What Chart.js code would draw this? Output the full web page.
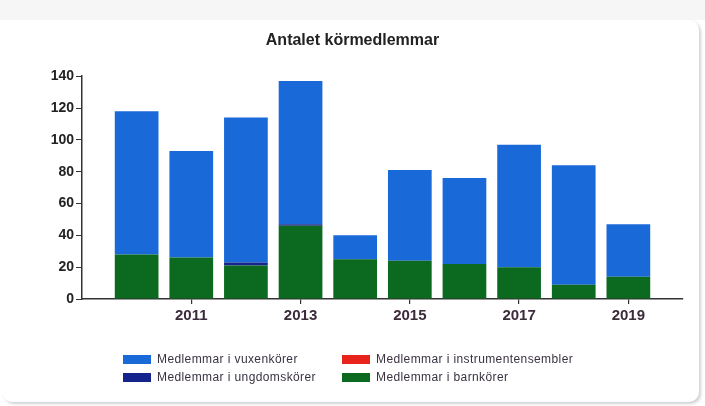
<!DOCTYPE html>
<html>
<head>
<meta charset="utf-8">
<script src="https://cdn.jsdelivr.net/npm/chart.js@4.4.1/dist/chart.umd.min.js"></script>
<style>
  html, body { margin: 0; padding: 0; background: #ffffff; }
  #wrap { position: relative; width: 705px; height: 406px; overflow: hidden; background: #fff; }
  #topband { position: absolute; left: 0; top: 0; width: 705px; height: 20px; background: #f6f6f6; }
  #card { position: absolute; left: 2px; top: 20px; width: 697px; height: 382px; border-radius: 10px;
          box-shadow: 2px 2px 3px rgba(0,0,0,0.18); background: #fff; }
  canvas { position: absolute; left: 0; top: 0; }
  .leg { position: absolute; font-family: "Liberation Sans", Arial, sans-serif; font-size: 12px;
         letter-spacing: 0.4px; color: #3a3242; white-space: nowrap; line-height: 14px; }
  .sw { position: absolute; width: 28px; height: 9px; }
</style>
</head>
<body>
<div id="wrap">
  <div id="topband"></div>
  <div id="card"></div>
  <canvas id="c" width="705" height="406"></canvas>
  <div id="legend"></div>
</div>
<script>
const years = [2010, 2011, 2012, 2013, 2014, 2015, 2016, 2017, 2018, 2019];
const tickYears = [2011, 2013, 2015, 2017, 2019];
const barnkorer = [28, 26, 21, 46, 25, 24, 22, 20, 9, 14];
const ungdomskorer = [0, 0, 2, 1, 0, 0, 0, 0, 0, 0];
const instrumentensembler = [0, 0, 0, 0, 0, 0, 0, 0, 0, 0];
const vuxenkorer = [90, 67, 91, 90, 15, 57, 54, 77, 75, 33];
const seriesNames = ['Medlemmar i vuxenkörer', 'Medlemmar i ungdomskörer', 'Medlemmar i instrumentensembler', 'Medlemmar i barnkörer'];
const colors = { vuxen: '#1a69d8', ungdom: '#14248c', instr: '#e8231c', barn: '#0c6a20' };

function pts(arr) { return years.map((y, i) => ({ x: y, y: arr[i] })); }

const ds = (label, arr, color) => ({
  label, data: pts(arr), backgroundColor: color, borderWidth: 0,
  barPercentage: 0.8, categoryPercentage: 1.0
});

new Chart(document.getElementById('c'), {
  type: 'bar',
  data: {
    datasets: [
      ds(seriesNames[3], barnkorer, colors.barn),
      ds(seriesNames[1], ungdomskorer, colors.ungdom),
      ds(seriesNames[2], instrumentensembler, colors.instr),
      ds(seriesNames[0], vuxenkorer, colors.vuxen)
    ]
  },
  options: {
    responsive: false,
    animation: false,
    layout: { padding: { left: 22, right: 22, top: 0, bottom: 0 } },
    plugins: {
      legend: { display: false },
      tooltip: { enabled: false },
      title: {
        display: true, text: 'Antalet körmedlemmar', color: '#222',
        font: { family: '"Liberation Sans Narrow", "Liberation Sans", Arial, sans-serif', size: 16, weight: 'bold' },
        padding: { top: 31, bottom: 26 }
      }
    },
    scales: {
      x: {
        type: 'linear', stacked: true, min: 2009, max: 2020, offset: false, bounds: 'ticks',
        afterBuildTicks: s => { s.ticks = tickYears.map(v => ({ value: v })); },
        afterDataLimits: s => { s.min = 2009; s.max = 2020; },
        afterFit: s => { s.height = 107; },
        grid: { display: true, drawOnChartArea: false, drawTicks: true, tickLength: 5, color: '#333', lineWidth: 1.2, offset: false },
        border: { display: true, color: '#333', width: 1.5 },
        ticks: {
          color: '#3b2b3b', padding: 3, maxRotation: 0, autoSkip: false,
          font: { family: '"Liberation Sans", Arial, sans-serif', size: 15, weight: 'bold' },
          callback: v => String(v)
        }
      },
      y: {
        stacked: true, min: 0, max: 140,
        afterFit: s => { s.width = 60; },
        grid: { display: true, drawOnChartArea: false, drawTicks: true, tickLength: 6, color: '#333', lineWidth: 1 },
        border: { display: true, color: '#333', width: 1.5 },
        ticks: {
          stepSize: 20, color: '#222', padding: 2,
          font: { family: '"Liberation Sans", Arial, sans-serif', size: 14, weight: 'bold' }
        }
      }
    }
  }
});

// HTML legend (two columns)
const legendItems = [
  { name: seriesNames[0], color: colors.vuxen, col: 0, row: 0 },
  { name: seriesNames[2], color: colors.instr, col: 1, row: 0 },
  { name: seriesNames[1], color: colors.ungdom, col: 0, row: 1 },
  { name: seriesNames[3], color: colors.barn, col: 1, row: 1 }
];
const colX = [123, 342];
const rowY = [355, 373];
const L = document.getElementById('legend');
legendItems.forEach(it => {
  const sw = document.createElement('div');
  sw.className = 'sw';
  sw.style.left = colX[it.col] + 'px';
  sw.style.top = rowY[it.row] + 'px';
  sw.style.background = it.color;
  L.appendChild(sw);
  const t = document.createElement('div');
  t.className = 'leg';
  t.style.left = (colX[it.col] + 34) + 'px';
  t.style.top = (rowY[it.row] - 3) + 'px';
  t.textContent = it.name;
  L.appendChild(t);
});
</script>
</body>
</html>
